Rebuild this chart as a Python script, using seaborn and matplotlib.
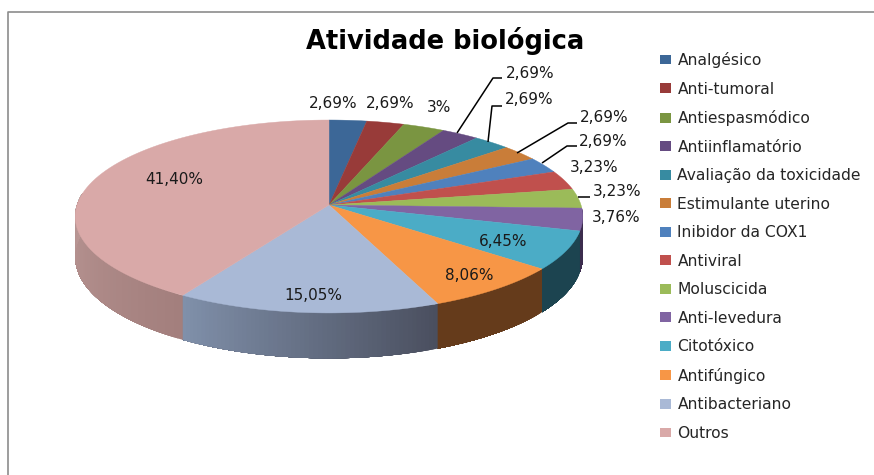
import numpy as np
import seaborn as sns
import matplotlib.pyplot as plt
from matplotlib.colors import to_rgb
from matplotlib.patches import Patch

# dados do grafico
categorias = ['Analgésico', 'Anti-tumoral', 'Antiespasmódico', 'Antiinflamatório',
              'Avaliação da toxicidade', 'Estimulante uterino', 'Inibidor da COX1',
              'Antiviral', 'Moluscicida', 'Anti-levedura', 'Citotóxico',
              'Antifúngico', 'Antibacteriano', 'Outros']
valores = [2.69, 2.69, 3, 2.69, 2.69, 2.69, 2.69, 3.23, 3.23, 3.76, 6.45, 8.06, 15.05, 41.40]
rotulos = ['2,69%', '2,69%', '3%', '2,69%', '2,69%', '2,69%', '2,69%',
           '3,23%', '3,23%', '3,76%', '6,45%', '8,06%', '15,05%', '41,40%']

cores = ['#3c6797', '#983b39', '#7a9541', '#654b81', '#378ba1', '#c97d39', '#4f81bd',
         '#c0504d', '#9bbb59', '#8064a2', '#4bacc6', '#f79646', '#a9b9d6', '#d9a9a8']
# cor da parede lateral: direita -> esquerda
paredes = {9: ('#3c2d4e', '#3c2d4e'), 10: ('#1c4450', '#1c4450'), 11: ('#653b1b', '#653b1b'),
           12: ('#4a4f5f', '#8090aa'), 13: ('#a37f7d', '#bb9896')}

# posicao dos textos em pixels
pos_rotulos = [(333, 104), (390, 104), (439, 108), (530, 73), (529, 100), (604, 117), (603, 141),
               (594, 168), (617, 192), (616, 217), (503, 242), (469, 275), (313, 296), (174, 180)]
linhas = [[(457, 133), (493, 78), (502, 78)], [(488, 142), (492, 106), (502, 106)],
          [(517, 153), (568, 123), (577, 123)], [(542, 163), (567, 146), (577, 146)],
          [(578, 197), (590, 197)]]

sns.set_theme(style='white')
paleta = sns.color_palette(cores)

fig = plt.figure(figsize=(8.74, 4.75), dpi=100)
ax = fig.add_axes([0, 0, 1, 1])
ax.set_xlim(0, 874)
ax.set_ylim(475, 0)
ax.axis('off')

# pizza em perspectiva
CX, CY, RX, RY, P, ALTURA = 329, 205, 252, 95.1, 0.119, 40


def projeta(ang):
    u, v = np.sin(ang), np.cos(ang)
    w = 1 + P * v
    return CX + RX * u / w, CY - RY * v / w, ALTURA / w


fracoes = np.array(valores) / np.sum(valores) * 2 * np.pi
fim = np.cumsum(fracoes)
inicio = fim - fracoes

# paredes primeiro, cada faixa cobre o resto da fatia para nao deixar emenda
for i, (c_dir, c_esq) in paredes.items():
    c_dir, c_esq = np.array(to_rgb(c_dir)), np.array(to_rgb(c_esq))
    a0 = max(inicio[i], np.pi / 2 - 0.12)
    a1 = min(fim[i], 3 * np.pi / 2 + 0.12)
    angs = np.linspace(a0, a1, 60)
    for k in range(len(angs) - 1):
        x, y, d = projeta(np.linspace(angs[k], a1, 80))
        t = k / (len(angs) - 2)
        cor = c_dir * (1 - t) + c_esq * t
        ax.fill(np.r_[x, x[::-1]], np.r_[y, (y + d)[::-1]], facecolor=cor, edgecolor='none')

# topo
for i in range(len(valores)):
    x, y, _ = projeta(np.linspace(inicio[i], fim[i], 80))
    ax.fill(np.r_[CX, x], np.r_[CY, y], color=paleta[i], lw=0.3)

for rot, (px, py) in zip(rotulos, pos_rotulos):
    ax.text(px, py, rot, ha='center', va='center', fontsize=11, color='#1a1a1a',
            family='DejaVu Sans')
for ln in linhas:
    xs, ys = zip(*ln)
    ax.plot(xs, ys, color='black', lw=1.1, solid_capstyle='butt')

ax.text(445, 41, 'Atividade biológica', ha='center', va='center', fontsize=18.5,
        fontweight='bold', color='black', family='DejaVu Sans')

# moldura
ax.plot([8, 8, 874], [475, 12, 12], color='#8c8c8c', lw=1.2)

handles = [Patch(facecolor=c, edgecolor='none') for c in paleta]
leg = ax.legend(handles, categorias, loc='upper left', bbox_to_anchor=(660 / 874, 1 - 52 / 475),
                frameon=False, fontsize=11.2, labelspacing=0.87, handlelength=0.72,
                handleheight=0.6, handletextpad=0.4, borderaxespad=0, borderpad=0)
for t in leg.get_texts():
    t.set_color('#262626')

plt.savefig('out.png', dpi=100)
